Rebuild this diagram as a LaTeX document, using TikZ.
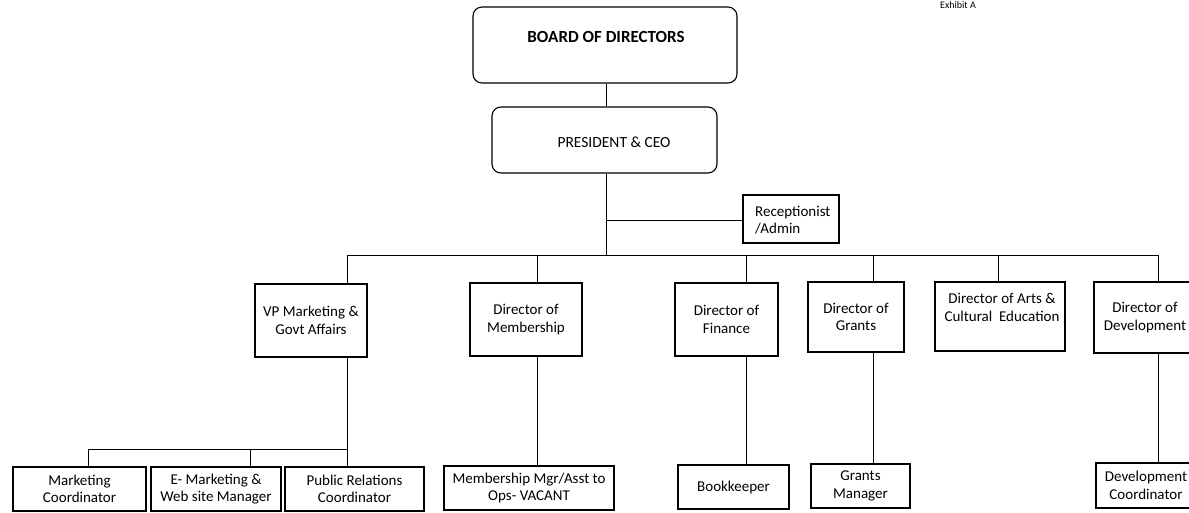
\documentclass[tikz,border=0pt]{standalone}
\usepackage{fontspec}
\setmainfont{Carlito}
\begin{document}
\begin{tikzpicture}[x=1pt,y=-1pt,
  box/.style={draw=black,line width=1.1pt,inner sep=0pt,fill=white},
  rbox/.style={box,rounded corners=9pt},
  txt/.style={inner sep=0pt,align=center,font=\fontsize{15}{17.5}\selectfont},
  conn/.style={draw=black,line width=0.9pt}]
\clip (0,0) rectangle (1189,513);
\fill[white] (0,0) rectangle (1189,513);
% header text at the top edge
\node[inner sep=0pt,anchor=base west,font=\fontsize{10}{12}\selectfont] (exh) at (940,9) {Exhibit A};
% boxes
\node[rbox,minimum width=264pt,minimum height=76pt] (board) at (605,45) {};
\node[txt,font=\fontsize{17}{20}\selectfont\bfseries] (boardt) at (606,37) {BOARD OF DIRECTORS};
\node[rbox,minimum width=225pt,minimum height=66pt] (pres) at (604.5,140) {};
\node[txt,font=\fontsize{15.5}{18}\selectfont] (prest) at (614,142) {PRESIDENT \& CEO};
\node[box,minimum width=96pt,minimum height=48pt] (recep) at (791,219) {};
\node[txt,align=left,anchor=west] (recept) at (755,220) {Receptionist\\/Admin};
\node[box,minimum width=112pt,minimum height=73pt,txt] (vp) at (311,320.5) {VP Marketing \&\\Govt Affairs};
\node[box,minimum width=112pt,minimum height=73pt,txt] (mem) at (526,319.5) {Director of\\Membership};
\node[box,minimum width=103pt,minimum height=73pt,txt] (fin) at (726.5,319.5) {Director of\\Finance};
\node[box,minimum width=96pt,minimum height=70pt,txt] (gra) at (856,317) {Director of\\Grants};
\node[box,minimum width=130pt,minimum height=69pt] (arts) at (1000,316.5) {};
\node[txt,anchor=north] (artst) at (1002,293) {Director of Arts \&\\Cultural\ \ Education};
\node[box,minimum width=102pt,minimum height=71pt,txt] (dev) at (1145,317.5) {Director of\\Development};
\node[box,minimum width=133pt,minimum height=44pt,txt] (mc) at (79.5,489) {Marketing\\Coordinator};
\node[box,minimum width=130pt,minimum height=44pt,txt] (em) at (216,489) {E- Marketing \&\\Web site Manager};
\node[box,minimum width=139pt,minimum height=44pt,txt] (pr) at (354.5,489) {Public Relations\\Coordinator};
\node[box,minimum width=170pt,minimum height=44pt,txt] (mm) at (529,488) {Membership Mgr/Asst to\\Ops- VACANT};
\node[box,minimum width=111pt,minimum height=44pt,txt] (bk) at (733.5,487) {Bookkeeper};
\node[box,minimum width=99pt,minimum height=44pt,txt] (gm) at (860.5,486) {Grants\\Manager};
\node[box,minimum width=100pt,minimum height=45pt,txt] (dc) at (1146,485.5) {Development\\Coordinator};
% junction points
\coordinate (top) at (606,255);
\coordinate (rj) at (606,220);
\coordinate (bvp) at (347,255);
\coordinate (bmem) at (537,255);
\coordinate (bfin) at (746,255);
\coordinate (bgra) at (873,255);
\coordinate (barts) at (998,255);
\coordinate (bdev) at (1158,255);
\coordinate (svp) at (347,449);
\coordinate (smc) at (88,449);
\coordinate (sem) at (250,449);
% connectors
\draw[conn] (board.south -| top) -- (pres.north -| top);
\draw[conn] (pres.south -| top) -- (top);
\draw[conn] (rj) -- (recep.west |- rj);
\draw[conn] (bvp) -- (bdev);
\draw[conn] (bvp) -- (bvp |- vp.north);
\draw[conn] (bmem) -- (bmem |- mem.north);
\draw[conn] (bfin) -- (bfin |- fin.north);
\draw[conn] (bgra) -- (bgra |- gra.north);
\draw[conn] (barts) -- (barts |- arts.north);
\draw[conn] (bdev) -- (bdev |- dev.north);
\draw[conn] (vp.south -| svp) -- (svp);
\draw[conn] (smc) -- (svp);
\draw[conn] (smc) -- (smc |- mc.north);
\draw[conn] (sem) -- (sem |- em.north);
\draw[conn] (svp) -- (svp |- pr.north);
\draw[conn] (mem.south -| bmem) -- (bmem |- mm.north);
\draw[conn] (fin.south -| bfin) -- (bfin |- bk.north);
\draw[conn] (gra.south -| bgra) -- (bgra |- gm.north);
\draw[conn] (dev.south -| bdev) -- (bdev |- dc.north);
\end{tikzpicture}
\end{document}
